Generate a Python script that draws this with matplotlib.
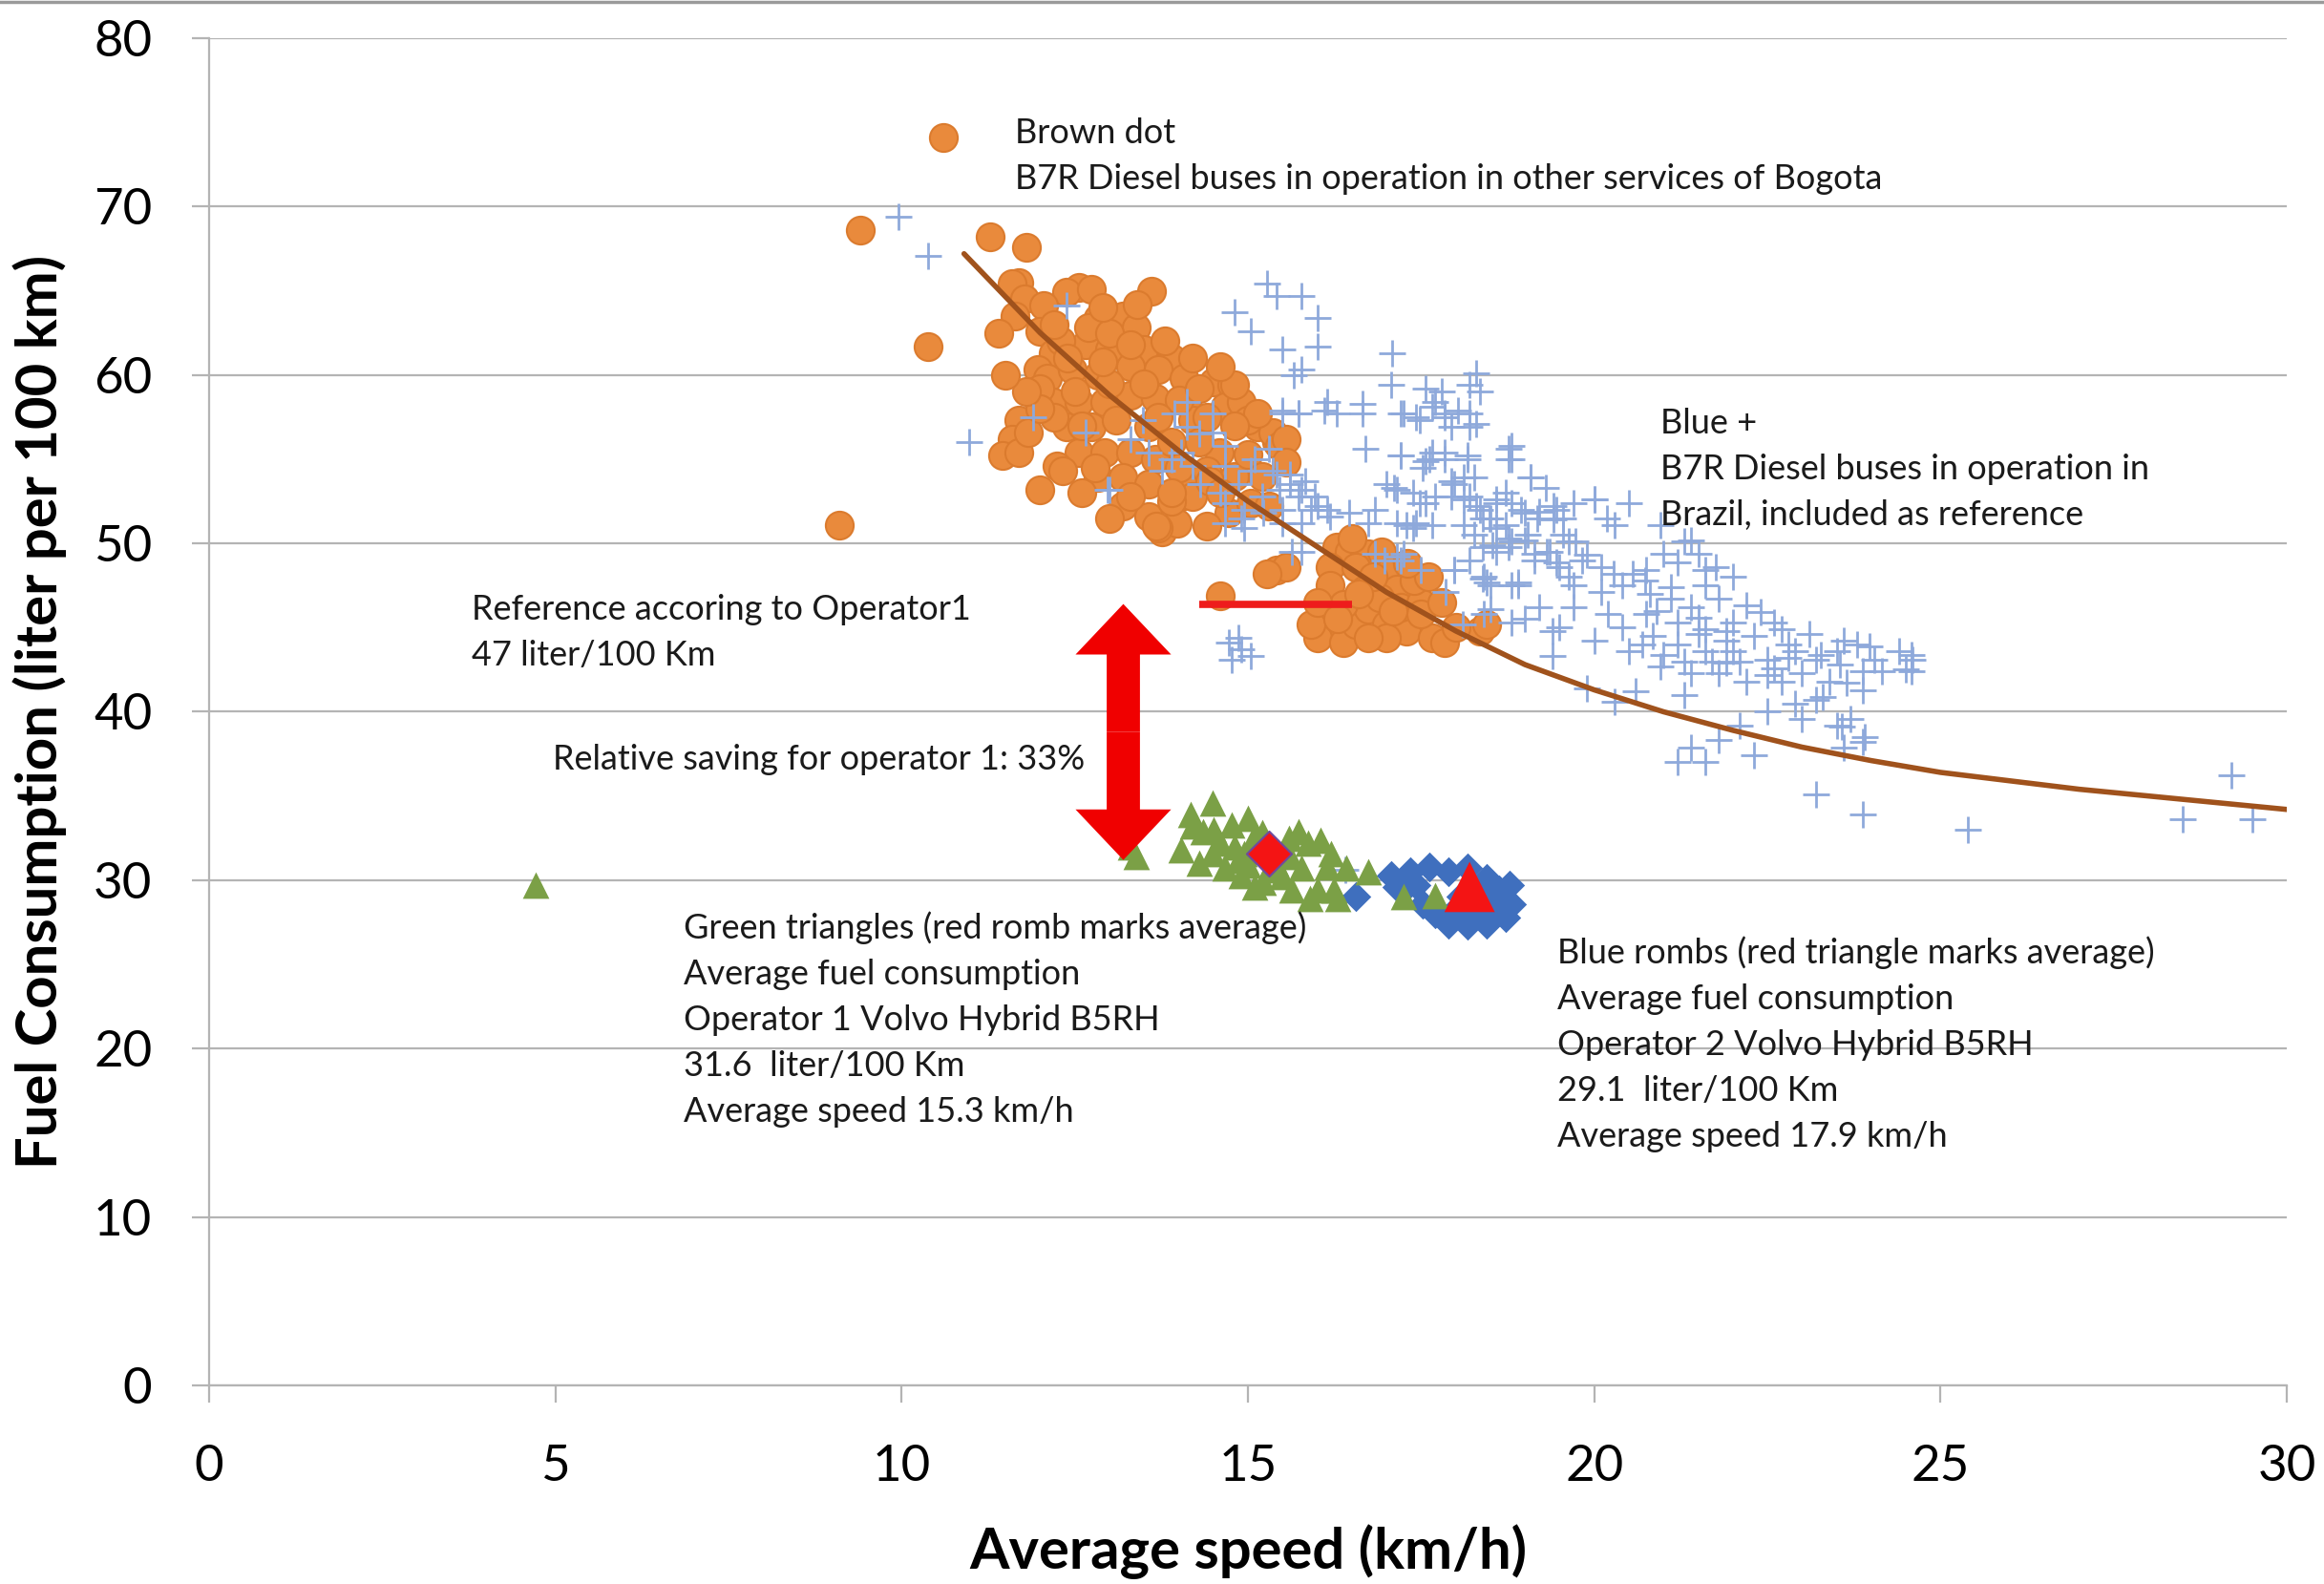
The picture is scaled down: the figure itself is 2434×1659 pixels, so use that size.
import matplotlib
matplotlib.use("Agg")
import matplotlib.pyplot as plt
from matplotlib.patches import FancyArrow
from matplotlib.lines import Line2D

plt.rcParams['font.family'] = ['Lato', 'DejaVu Sans']

# ---------------- data ----------------
x_ticks = [0, 5, 10, 15, 20, 25, 30]
y_ticks = [0, 10, 20, 30, 40, 50, 60, 70, 80]

# Brown dots: B7R diesel buses, other Bogota services
orange_x = [10.6, 9.4, 11.28, 11.8, 10.38, 9.1, 13.6,
            11.69, 12.56, 12.38, 12.74, 11.6, 11.77, 11.64, 12.05, 12.0, 12.84, 13.2, 13.39,
            12.19, 12.66, 13.0, 11.97, 12.3, 12.7, 13.0, 13.5, 13.9,
            12.1, 12.46, 12.84, 13.3, 13.7, 14.08, 14.5, 14.77, 12.19, 12.56, 12.93, 13.3,
            13.66, 14.12, 14.67, 14.9, 12.38, 12.74, 13.1, 13.57, 14.2, 15.14, 15.41,
            12.56, 12.93, 13.3, 13.66, 14.59, 12.84, 13.2, 13.57, 14.03, 14.2, 13.2, 13.57,
            13.76, 13.9, 14.3, 14.0, 14.4, 14.8, 15.0, 15.36, 15.45, 15.0, 15.14, 14.8,
            13.98, 14.2, 14.45, 14.72, 15.04, 15.3, 13.7, 15.55, 15.55, 12.5, 13.0, 13.5, 14.0,
            11.69, 11.6, 11.46, 11.69, 11.83, 12.24, 12.33, 12.0, 12.0, 12.2, 12.6, 13.9, 14.4,
            12.2, 12.9, 13.4, 12.4, 12.9, 13.3, 13.8, 14.2, 14.6, 14.3, 13.7, 14.4, 14.8,
            12.0, 11.8, 11.5, 11.4, 12.6, 13.0, 13.67, 13.3, 12.8, 13.9, 14.6, 15.2,
            15.41, 15.55, 15.28, 14.6, 16.28, 16.46, 16.74, 16.93, 16.19, 16.56, 17.0,
            16.19, 16.7, 17.15, 16.1, 16.0, 16.38, 16.56, 16.74, 17.0, 17.29, 17.29, 17.0,
            16.74, 17.66, 17.84, 18.35, 18.45, 15.91, 16.38, 16.9, 17.2, 16.5, 17.5, 17.4,
            16.0, 16.3, 17.5, 17.8, 17.6, 16.8, 17.3, 18.0, 16.6, 17.1]
orange_y = [74.1, 68.6, 68.2, 67.6, 61.7, 51.1, 65.0,
            65.5, 65.2, 64.9, 65.1, 65.4, 64.5, 63.5, 64.1, 62.6, 63.4, 63.5, 62.8,
            61.3, 61.8, 61.5, 60.3, 62.0, 62.8, 62.5, 61.5, 61.0,
            59.8, 60.3, 60.0, 60.5, 60.3, 59.8, 59.6, 59.4, 58.4, 58.4, 58.4, 58.8,
            58.6, 58.4, 58.1, 58.4, 56.9, 56.9, 57.3, 56.9, 57.3, 56.9, 56.0,
            55.4, 55.4, 55.4, 55.0, 55.4, 53.9, 53.9, 53.5, 52.8, 53.5, 52.2, 51.6,
            50.7, 56.0, 56.0, 54.5, 54.3, 54.0, 55.3, 56.6, 55.8, 57.3, 57.7, 59.4,
            51.2, 52.8, 53.7, 51.8, 52.4, 52.2, 50.9, 56.2, 54.8, 59.0, 59.5, 59.5, 58.5,
            57.3, 56.2, 55.2, 55.4, 56.6, 54.6, 54.3, 53.2, 59.2, 57.5, 57.0, 52.5, 51.0,
            63.0, 64.0, 64.2, 61.0, 60.8, 61.8, 62.0, 61.0, 60.5, 59.2, 57.5, 57.5, 57.0,
            58.0, 59.0, 60.0, 62.5, 53.0, 51.5, 51.0, 52.8, 54.5, 53.0, 53.0, 54.0,
            48.4, 48.6, 48.2, 46.9, 49.8, 49.5, 49.4, 49.5, 48.6, 48.6, 48.2,
            47.5, 47.3, 47.3, 45.2, 44.4, 44.1, 45.2, 46.1, 45.2, 45.6, 44.8, 44.4,
            44.4, 44.4, 44.1, 44.8, 45.2, 45.2, 46.4, 46.8, 46.2, 50.3, 46.5, 47.8,
            46.5, 45.5, 45.8, 46.5, 48.0, 48.0, 48.8, 45.0, 47.0, 46.0]

# Blue +: B7R diesel buses in Brazil (reference)
plus_x = [9.95, 10.38, 10.97, 11.9, 12.38,
          15.28, 15.41, 15.77, 14.81, 15.04, 15.5, 16.0, 16.0, 15.77, 15.66, 15.5, 15.73, 16.15,
          17.08, 18.3, 18.35, 18.2, 17.8, 17.57, 17.7, 17.25, 17.43, 17.84, 18.03, 18.3, 17.07,
          17.2, 17.62, 17.84, 18.17, 17.52, 18.8, 18.8, 19.08, 18.26, 17.98, 17.15, 17.48, 17.7,
          18.12, 18.35, 18.58, 18.8, 18.49, 18.72, 19.0, 19.18, 19.45, 19.55, 20.0, 20.18,
          18.26, 18.53, 18.8, 19.14, 19.36, 19.55, 19.73, 19.83, 20.1, 20.28, 20.56, 20.74,
          21.0, 21.3, 21.5, 21.76, 17.98, 18.45, 18.9, 16.97, 17.25, 17.15, 17.39, 17.0,
          15.5, 15.73, 16.1, 16.28, 16.65, 16.65, 17.2, 17.48, 17.66, 17.84, 17.94, 18.2, 18.2,
          16.7, 17.2, 17.57, 17.66, 17.84, 18.17, 18.76, 18.76, 19.08, 17.11, 17.39, 17.57,
          17.94, 18.12, 18.2, 17.94, 18.3, 18.58, 18.72, 18.94, 19.41, 19.41, 17.43, 17.66,
          17.29, 18.12, 18.39, 18.58, 18.76, 19.04, 18.39, 18.58, 18.76, 19.14, 19.32, 19.63,
          19.5, 19.63, 18.2, 17.98, 18.39, 18.5, 18.9, 18.1, 18.5, 19.4, 19.4, 16.83, 17.15,
          16.74, 16.83, 16.46, 16.19, 16.0, 15.77, 17.2, 15.36, 15.6, 15.83, 15.45, 15.73,
          15.91, 15.5, 15.2, 14.9, 14.72, 14.9, 14.77, 15.04, 14.86, 15.64,
          12.66, 12.97, 13.3, 13.57, 13.76, 13.94, 14.12, 14.03, 14.2, 14.31, 14.49, 14.67,
          14.67, 14.86, 15.04, 15.1, 15.41, 15.6, 15.77, 15.96, 16.15, 14.67, 14.95, 15.22,
          14.67, 14.95, 15.5, 15.77, 13.0, 13.48, 14.12, 14.49, 13.9, 14.3, 14.6, 15.3,
          20.5, 20.95, 21.4, 21.2, 20.75, 20.4, 20.1, 19.7, 19.2, 19.7, 21.6, 22.0, 21.6, 21.8,
          21.4, 21.1, 20.75, 21.2, 21.6, 22.0, 22.3, 22.7, 22.9, 22.5, 22.0, 21.6, 21.2, 20.85,
          20.5, 20.95, 21.4, 21.8, 22.2, 22.7, 23.0, 23.2, 23.5, 23.8, 24.05, 24.4, 24.6, 24.5,
          23.3, 22.9, 23.0, 22.5, 22.1, 21.8, 21.4, 21.2, 21.6, 22.3, 23.5, 23.7, 23.9, 23.6,
          23.27, 23.6, 23.97, 23.55, 23.88, 23.65, 24.16, 24.58, 24.58, 23.88, 23.2, 23.58,
          23.88, 23.2, 23.88, 25.4, 28.5, 29.2, 29.5,
          19.3, 19.2, 19.7, 20.0, 20.3, 18.5, 19.0, 19.45, 19.9, 18.8, 18.4, 17.5, 17.85, 18.4,
          18.8, 19.0, 19.5, 20.2, 20.0, 20.3, 20.6, 19.9, 22.4, 22.8, 21.9, 21.3, 22.6, 23.4,
          20.8, 21.1, 21.5, 21.9, 22.2, 22.5, 21.3, 21.7, 22.1, 20.9, 21.5, 22.8, 23.1, 20.4,
          20.7, 21.0, 21.9, 22.6, 16.4]
plus_y = [69.4, 67.1, 56.0, 57.5, 64.1,
          65.4, 64.7, 64.7, 63.7, 62.6, 61.5, 63.4, 61.7, 60.3, 60.0, 57.9, 57.7, 58.4,
          61.3, 60.1, 59.0, 59.4, 59.0, 59.2, 58.4, 57.7, 57.5, 57.7, 57.9, 57.1, 59.4,
          55.2, 55.0, 55.4, 55.0, 54.5, 55.8, 55.0, 53.9, 53.9, 53.5, 53.2, 52.4, 52.8,
          52.6, 52.0, 52.4, 52.4, 51.5, 51.1, 51.8, 51.5, 52.0, 51.5, 52.6, 51.5,
          50.5, 49.9, 50.1, 49.4, 49.5, 50.5, 50.1, 49.0, 48.6, 48.2, 48.2, 47.8,
          49.4, 50.1, 49.4, 48.6, 48.4, 47.7, 47.7, 49.0, 49.4, 51.2, 50.9, 53.5,
          57.7, 57.7, 57.9, 57.7, 57.7, 58.3, 57.7, 57.3, 58.1, 57.5, 56.9, 57.7, 56.9,
          55.6, 55.2, 54.9, 55.4, 55.0, 55.2, 55.6, 55.0, 53.9, 53.3, 53.0, 52.4,
          53.7, 53.9, 52.8, 52.8, 52.2, 52.6, 53.0, 52.0, 52.2, 51.4, 51.2, 51.1,
          51.1, 51.1, 51.5, 50.9, 50.3, 50.5, 49.8, 49.5, 49.8, 49.0, 49.5, 50.1,
          48.6, 48.0, 49.0, 48.4, 47.9, 47.5, 47.5, 45.2, 46.1, 44.8, 43.3, 49.4, 49.2,
          51.2, 52.0, 51.8, 51.6, 52.2, 49.5, 49.0, 54.3, 54.1, 53.7, 53.2, 52.8,
          52.0, 52.0, 52.8, 51.5, 44.1, 43.7, 43.1, 43.3, 44.4, 49.5,
          56.6, 53.2, 56.2, 55.4, 54.3, 57.7, 56.9, 55.4, 54.6, 53.5, 56.6, 55.8,
          54.6, 53.5, 54.3, 55.0, 54.1, 53.5, 53.2, 52.8, 52.0, 52.4, 52.0, 51.8,
          51.2, 50.9, 51.2, 51.2, 53.2, 57.3, 58.4, 57.7, 55.0, 56.5, 53.0, 55.6,
          52.4, 51.1, 50.2, 48.9, 48.4, 47.5, 47.1, 46.2, 46.2, 47.5, 48.4, 48.0, 47.5, 46.7,
          46.2, 46.7, 45.8, 45.3, 44.9, 45.3, 44.5, 44.9, 43.6, 43.1, 43.6, 43.6, 44.0, 44.5,
          43.6, 42.7, 42.3, 42.3, 41.8, 41.8, 42.3, 43.1, 43.6, 44.0, 43.1, 43.6, 43.1, 42.5,
          40.9, 40.5, 39.6, 40.0, 39.2, 38.3, 37.9, 37.0, 37.0, 37.4, 39.2, 39.6, 38.5, 37.9,
          43.4, 44.2, 43.9, 42.8, 42.4, 41.7, 42.4, 43.4, 42.4, 41.3, 40.7, 39.1,
          38.2, 35.1, 33.9, 33.0, 33.6, 36.2, 33.6,
          53.3, 51.9, 52.4, 52.6, 51.1, 51.5, 50.2, 48.9, 49.3, 47.5, 48.0, 48.4, 47.1, 45.8,
          45.3, 45.5, 45.0, 45.8, 44.2, 40.6, 41.2, 41.4, 45.9, 44.0, 44.8, 41.0, 42.6, 41.8,
          47.0, 47.4, 45.6, 44.2, 46.3, 42.2, 43.0, 43.0, 43.0, 46.0, 44.6, 43.2, 44.6, 45.0,
          44.0, 43.4, 42.9, 45.3, 30.6]

# Green triangles: Operator 1 Volvo Hybrid B5RH
green_x = [4.71, 13.39, 13.3, 14.03, 14.17, 14.49, 14.35, 14.77, 15.0, 15.08, 14.86, 14.67,
           14.49, 14.9, 15.22, 15.59, 15.73, 15.87, 16.05, 15.77, 16.14, 15.64, 16.0, 16.24,
           16.42, 16.74, 17.25, 17.7, 14.2, 14.6, 15.4, 15.2, 15.5, 14.95, 15.3, 15.1, 15.9,
           16.3, 14.3, 14.8, 15.6, 16.2, 15.0, 14.5]
green_y = [29.7, 31.4, 32.0, 31.8, 33.9, 34.6, 32.9, 33.3, 33.7, 32.5, 31.2, 30.7,
           31.6, 30.3, 29.9, 32.5, 32.9, 32.2, 32.4, 30.7, 30.8, 29.4, 29.4, 29.4,
           30.7, 30.5, 29.0, 29.1, 33.2, 32.2, 31.0, 32.8, 30.2, 31.6, 30.6, 29.6, 28.9,
           28.9, 31.0, 32.0, 31.4, 31.6, 30.9, 33.0]

# Blue rhombs: Operator 2 Volvo Hybrid B5RH
rhomb_x = [17.07, 17.34, 17.62, 17.9, 18.17, 18.45, 18.63, 18.8, 18.72, 18.45, 18.17, 17.9,
           17.7, 17.52, 17.25, 17.43, 18.08, 18.35, 18.53, 18.3, 17.98, 16.56, 17.15, 18.77]
rhomb_y = [30.3, 30.5, 30.8, 30.5, 30.7, 30.1, 29.4, 28.6, 27.8, 27.4, 27.3, 27.4,
           28.0, 28.6, 29.4, 29.7, 29.0, 29.0, 28.6, 28.0, 28.2, 29.0, 29.6, 29.7]

# Averages
avg_op1 = (15.3, 31.6)
avg_op2 = (18.2, 29.6)

# Trend line
trend_x = [10.9, 12, 13, 14, 15, 16, 17, 18, 19, 20, 21, 22, 23, 24, 25, 26, 27, 28, 29, 30]
trend_y = [67.2, 62.5, 58.8, 55.5, 52.5, 49.8, 47.1, 44.8, 42.8, 41.3, 40.0, 38.9, 37.9,
           37.1, 36.4, 35.9, 35.4, 35.0, 34.6, 34.2]

# Reference line for operator 1 and saving arrow
ref_x = [14.3, 16.5]
ref_y = 46.4
arrow_x = 13.2
arrow_top = 46.4
arrow_bottom = 31.2

# ---------------- figure ----------------
fig = plt.figure(figsize=(24.34, 16.59), dpi=100)
ax = fig.add_axes([0.09, 0.1254, 0.894, 0.8505])
ax.set_xlim(0, 30)
ax.set_ylim(0, 80)

grid_c = '#B4B4B4'
ax.set_yticks(y_ticks)
ax.set_xticks(x_ticks)
ax.yaxis.grid(True, color=grid_c, lw=1.6)
ax.set_axisbelow(True)
for s in ['top', 'right']:
    ax.spines[s].set_visible(False)
for s in ['left', 'bottom']:
    ax.spines[s].set_color(grid_c)
    ax.spines[s].set_linewidth(1.6)
ax.tick_params(axis='both', colors=grid_c, labelcolor='black', labelsize=38,
               length=13, width=1.6, direction='out')
ax.tick_params(axis='y', pad=30)
ax.tick_params(axis='x', pad=32)

ax.set_xlabel('Average speed (km/h)', fontsize=43, fontweight='bold', labelpad=26)
ax.set_ylabel('Fuel Consumption (liter per 100 km)', fontsize=43, fontweight='bold',
              labelpad=20)

# series
ax.scatter(orange_x, orange_y, s=21 ** 2, marker='o', facecolor='#E98A3C',
           edgecolor='#DB7B2E', linewidth=1.5, zorder=3)
ax.scatter(plus_x, plus_y, s=20 ** 2, marker='+', color='#8EA9DB', linewidth=2.0, zorder=4)
ax.plot(trend_x, trend_y, color='#A0521C', lw=4.0, zorder=5, solid_capstyle='round')
ax.scatter(rhomb_x, rhomb_y, s=16 ** 2, marker='D', color='#3F6FBE', linewidth=0, zorder=6)
ax.scatter(green_x, green_y, s=20 ** 2, marker='^', color='#7BA046', linewidth=0, zorder=7)
ax.scatter([avg_op1[0]], [avg_op1[1]], s=24 ** 2, marker='D', facecolor='#F41414',
           edgecolor='#6E4A9E', linewidth=1.5, zorder=8)
ax.scatter([avg_op2[0]], [avg_op2[1]], s=38 ** 2, marker='^', facecolor='#F41414',
           edgecolor='none', zorder=9)

# reference line & double arrow
ax.plot(ref_x, [ref_y, ref_y], color='#EE1C1C', lw=5.5, zorder=8, solid_capstyle='butt')
mid = (arrow_top + arrow_bottom) / 2
for tip in (arrow_top, arrow_bottom):
    ax.add_patch(FancyArrow(arrow_x, mid, 0, tip - mid, width=0.48, head_width=1.38,
                            head_length=3.0, length_includes_head=True,
                            color='#F00000', lw=0, zorder=9))

# annotations
tkw = dict(fontsize=26, color='#1A1A1A', linespacing=1.55, va='center', ha='left', zorder=10)
ax.text(11.64, 73.0, 'Brown dot\nB7R Diesel buses in operation in other services of Bogota', **tkw)
ax.text(20.95, 54.4, 'Blue +\nB7R Diesel buses in operation in\nBrazil, included as reference', **tkw)
ax.text(3.79, 44.7, 'Reference accoring to Operator1\n47 liter/100 Km', **tkw)
ax.text(4.96, 37.15, 'Relative saving for operator 1: 33%', **tkw)
ax.text(6.85, 21.74, 'Green triangles (red romb marks average)\nAverage fuel consumption\n'
        'Operator 1 Volvo Hybrid B5RH\n31.6  liter/100 Km\nAverage speed 15.3 km/h', **tkw)
ax.text(19.47, 20.25, 'Blue rombs (red triangle marks average)\nAverage fuel consumption\n'
        'Operator 2 Volvo Hybrid B5RH\n29.1  liter/100 Km\nAverage speed 17.9 km/h', **tkw)

fig.add_artist(Line2D([0, 1], [0.9985, 0.9985], color='#9A9A9A', lw=2.5))

fig.savefig('out.png', dpi=100, facecolor='white')
